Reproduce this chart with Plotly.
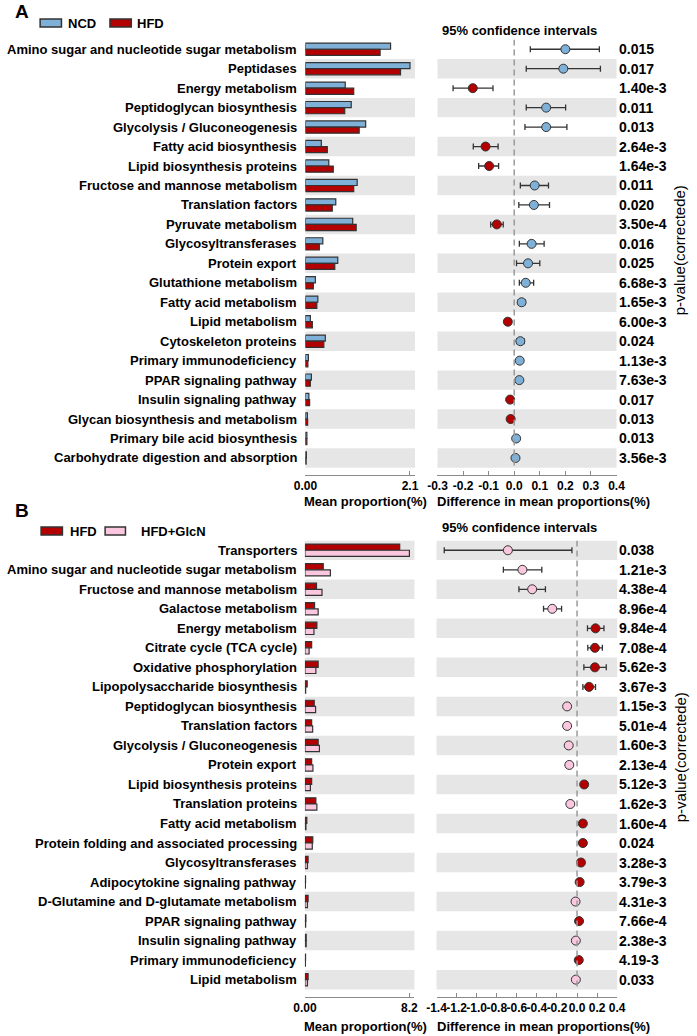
import plotly.graph_objects as go

W, H = 697, 1036

# ---------------- Panel A: NCD vs HFD ----------------
a_labels = ["Amino sugar and nucleotide sugar metabolism", "Peptidases", "Energy metabolism",
            "Peptidoglycan biosynthesis", "Glycolysis / Gluconeogenesis", "Fatty acid biosynthesis",
            "Lipid biosynthesis proteins", "Fructose and mannose metabolism", "Translation factors",
            "Pyruvate metabolism", "Glycosyltransferases", "Protein export", "Glutathione metabolism",
            "Fatty acid metabolism", "Lipid metabolism", "Cytoskeleton proteins",
            "Primary immunodeficiency", "PPAR signaling pathway", "Insulin signaling pathway",
            "Glycan biosynthesis and metabolism", "Primary bile acid biosynthesis",
            "Carbohydrate digestion and absorption"]
a_ncd = [1.71, 2.10, 0.80, 0.92, 1.21, 0.32, 0.47, 1.04, 0.61, 0.95, 0.35, 0.65, 0.20,
         0.25, 0.10, 0.40, 0.06, 0.12, 0.07, 0.04, 0.03, 0.02]
a_hfd = [1.50, 1.91, 0.97, 0.79, 1.08, 0.44, 0.56, 0.97, 0.54, 1.02, 0.28, 0.59, 0.16,
         0.23, 0.14, 0.37, 0.05, 0.10, 0.085, 0.045, 0.03, 0.015]
a_diff = [0.200, 0.192, -0.162, 0.125, 0.125, -0.112, -0.098, 0.080, 0.077, -0.068, 0.068,
          0.054, 0.045, 0.029, -0.025, 0.024, 0.0215, 0.020, -0.016, -0.014, 0.0076, 0.005]
a_lo = [0.063, 0.047, -0.239, 0.047, 0.042, -0.160, -0.139, 0.024, 0.018, -0.092, 0.020,
        0.009, 0.020, 0.016, -0.037, 0.010, 0.017, 0.013, -0.022, -0.020, 0.005, 0.002]
a_hi = [0.333, 0.337, -0.083, 0.201, 0.206, -0.063, -0.061, 0.134, 0.138, -0.043, 0.117,
        0.100, 0.076, 0.043, -0.014, 0.039, 0.026, 0.027, -0.010, -0.008, 0.010, 0.008]
a_p = ["0.015", "0.017", "1.40e-3", "0.011", "0.013", "2.64e-3", "1.64e-3", "0.011", "0.020",
       "3.50e-4", "0.016", "0.025", "6.68e-3", "1.65e-3", "6.00e-3", "0.024", "1.13e-3",
       "7.63e-3", "0.017", "0.013", "0.013", "3.56e-3"]

# ---------------- Panel B: HFD vs HFD+GlcN ----------------
b_labels = ["Transporters", "Amino sugar and nucleotide sugar metabolism",
            "Fructose and mannose metabolism", "Galactose metabolism", "Energy metabolism",
            "Citrate cycle (TCA cycle)", "Oxidative phosphorylation",
            "Lipopolysaccharide biosynthesis", "Peptidoglycan biosynthesis", "Translation factors",
            "Glycolysis / Gluconeogenesis", "Protein export", "Lipid biosynthesis proteins",
            "Translation proteins", "Fatty acid metabolism",
            "Protein folding and associated processing", "Glycosyltransferases",
            "Adipocytokine signaling pathway", "D-Glutamine and D-glutamate metabolism",
            "PPAR signaling pathway", "Insulin signaling pathway", "Primary immunodeficiency",
            "Lipid metabolism"]
b_hfd = [7.44, 1.44, 0.91, 0.76, 0.94, 0.53, 1.04, 0.18, 0.73, 0.53, 1.04, 0.53, 0.53, 0.86,
         0.15, 0.62, 0.25, 0.05, 0.25, 0.08, 0.10, 0.05, 0.25]
b_glcn = [8.20, 2.00, 1.34, 1.04, 0.71, 0.33, 0.86, 0.06, 0.84, 0.61, 1.14, 0.63, 0.43, 0.94,
          0.08, 0.58, 0.20, 0.04, 0.20, 0.06, 0.10, 0.04, 0.20]
b_diff = [-0.689, -0.544, -0.447, -0.247, 0.184, 0.178, 0.178, 0.120, -0.099, -0.099, -0.083,
          -0.077, 0.071, -0.067, 0.058, 0.058, 0.039, 0.026, -0.015, 0.020, -0.012, 0.017, -0.012]
b_lo = [-1.323, -0.734, -0.579, -0.334, 0.104, 0.107, 0.068, 0.058, -0.125, -0.125, -0.105,
        -0.099, 0.061, -0.077, 0.050, 0.028, 0.033, 0.023, -0.019, 0.017, -0.015, 0.014, -0.015]
b_hi = [-0.051, -0.351, -0.315, -0.154, 0.268, 0.252, 0.291, 0.184, -0.073, -0.073, -0.061,
        -0.055, 0.081, -0.057, 0.066, 0.090, 0.045, 0.029, -0.011, 0.023, -0.009, 0.020, -0.009]
b_p = ["0.038", "1.21e-3", "4.38e-4", "8.96e-4", "9.84e-4", "7.08e-4", "5.62e-3", "3.67e-3",
       "1.15e-3", "5.01e-4", "1.60e-3", "2.13e-4", "5.12e-3", "1.62e-3", "1.60e-4", "0.024",
       "3.28e-3", "3.79e-3", "4.31e-3", "7.66e-4", "2.38e-3", "4.19-3", "0.033"]

a_ci_ticks = [-0.3, -0.2, -0.1, 0.0, 0.1, 0.2, 0.3, 0.4]
b_ci_ticks = [-1.4, -1.2, -1.0, -0.8, -0.6, -0.4, -0.2, 0.0, 0.2, 0.4]

FONT = "Liberation Sans, Arial, sans-serif"
BLUE = "#7fb1d8"
RED = "#b30000"
PINK = "#fac7df"
STRIPE = "#e6e6e6"
EDGE = "#333333"
AXC = "#8a8a8a"


def px(x):
    return x / W


def py(y):
    return 1 - y / H


fig = go.Figure()

panels = [
    dict(tag="A", labels=a_labels, s1=a_ncd, s2=a_hfd, n1="NCD", n2="HFD", c1=BLUE, c2=RED,
         diff=a_diff, lo=a_lo, hi=a_hi, p=a_p, xa="x", ya="y", xb="x2", yb="y2",
         bar_dom=(302.5, 415.5), ci_dom=(438.7, 623.3), top=39.5, bottom=475,
         bar_range=[0, 2.2], bar_tv=[0, 2.1], bar_tt=["0.00", "2.1"],
         ci_range=[-0.3, 0.4], ci_tv=a_ci_ticks, parity=1,
         title_y=501.5, ci_title_y=30, vt_y=250, letter_y=12, leg_y=23,
         leg=[(29, 51, BLUE, 58, "NCD"), (101, 123, RED, 129, "HFD")]),
    dict(tag="B", labels=b_labels, s1=b_hfd, s2=b_glcn, n1="HFD", n2="HFD+GlcN", c1=RED, c2=PINK,
         diff=b_diff, lo=b_lo, hi=b_hi, p=b_p, xa="x3", ya="y3", xb="x4", yb="y4",
         bar_dom=(302, 415), ci_dom=(437.7, 624), top=540.5, bottom=996.7,
         bar_range=[0, 8.6], bar_tv=[0, 8.2], bar_tt=["0.00", "8.2"],
         ci_range=[-1.4, 0.4], ci_tv=b_ci_ticks, parity=0,
         title_y=1026, ci_title_y=527, vt_y=757, letter_y=510, leg_y=531,
         leg=[(30, 52, RED, 60, "HFD"), (96, 117, PINK, 133, "HFD+GlcN")]),
]

shapes = []
annotations = []
layout_axes = {}


def xname(a):
    return "xaxis" if a == "x" else "xaxis" + a[1:]


def yname(a):
    return "yaxis" if a == "y" else "yaxis" + a[1:]


for P in panels:
    n = len(P["labels"])
    rows = list(range(n))
    row_h = (P["bottom"] - P["top"] - 7.3) / n
    pad = (P["bottom"] - P["top"]) / row_h - n
    yrange = [n - 0.5 + pad, -0.5]
    ydom = [py(P["bottom"]), py(P["top"])]

    # bars
    fig.add_trace(go.Bar(x=P["s1"], y=rows, orientation="h", name=P["n1"],
                         marker=dict(color=P["c1"], line=dict(color=EDGE, width=1.2)),
                         xaxis=P["xa"], yaxis=P["ya"], showlegend=False))
    fig.add_trace(go.Bar(x=P["s2"], y=rows, orientation="h", name=P["n2"],
                         marker=dict(color=P["c2"], line=dict(color=EDGE, width=1.2)),
                         xaxis=P["xa"], yaxis=P["ya"], showlegend=False))
    # CI points
    cols = [P["c1"] if d > 0 else P["c2"] for d in P["diff"]]
    fig.add_trace(go.Scatter(
        x=P["diff"], y=rows, mode="markers",
        marker=dict(size=9, color=cols, line=dict(color=EDGE, width=1)),
        error_x=dict(type="data", symmetric=False,
                     array=[h - d for h, d in zip(P["hi"], P["diff"])],
                     arrayminus=[d - l for d, l in zip(P["diff"], P["lo"])],
                     color=EDGE, thickness=1.3, width=3),
        xaxis=P["xb"], yaxis=P["yb"], showlegend=False))

    # stripes
    for i in rows:
        if i % 2 == P["parity"]:
            for xr, yr in ((P["xa"], P["ya"]), (P["xb"], P["yb"])):
                shapes.append(dict(type="rect", xref=f"{xr} domain", x0=0, x1=1,
                                   yref=yr, y0=i - 0.5, y1=i + 0.5, fillcolor=STRIPE,
                                   line=dict(width=0), layer="below"))
    # zero dashed line
    shapes.append(dict(type="line", xref=P["xb"], x0=0, x1=0, yref=P["yb"],
                       y0=-0.5, y1=n - 0.5,
                       line=dict(color="#9a9a9a", width=1.5, dash="6px,4px"),
                       layer="above"))

    common_x = dict(showgrid=False, zeroline=False, showline=True, linecolor=AXC, linewidth=1,
                    ticks="inside", ticklen=4, tickcolor=AXC, tickangle=0,
                    tickfont=dict(family=FONT, size=12, color="black", weight="bold"))
    layout_axes[xname(P["xa"])] = dict(common_x, domain=[px(P["bar_dom"][0]), px(P["bar_dom"][1])],
                                       range=P["bar_range"], tickvals=P["bar_tv"],
                                       ticktext=P["bar_tt"], anchor=P["ya"])
    layout_axes[xname(P["xb"])] = dict(common_x, domain=[px(P["ci_dom"][0]), px(P["ci_dom"][1])],
                                       range=P["ci_range"], tickvals=P["ci_tv"],
                                       ticktext=[f"{v:.1f}" for v in P["ci_tv"]],
                                       anchor=P["yb"])
    for ya, xa in ((P["ya"], P["xa"]), (P["yb"], P["xb"])):
        layout_axes[yname(ya)] = dict(domain=ydom, range=yrange, visible=False,
                                      showgrid=False, zeroline=False, anchor=xa)

    # row labels and p-values
    for i, (lab, pv) in enumerate(zip(P["labels"], P["p"])):
        annotations.append(dict(x=px(296), xref="paper", xanchor="right", y=i, yref=P["ya"],
                                text=lab, showarrow=False,
                                font=dict(family=FONT, size=13, color="black", weight="bold")))
        annotations.append(dict(x=px(624), xref="paper", xanchor="left", y=i, yref=P["yb"],
                                text=pv, showarrow=False,
                                font=dict(family=FONT, size=14, color="black", weight="bold")))

    # titles
    annotations.append(dict(x=px(299), y=py(P["title_y"]), xref="paper", yref="paper",
                            xanchor="left", yanchor="middle", text="Mean proportion(%)",
                            showarrow=False,
                            font=dict(family=FONT, size=13, color="black", weight="bold")))
    annotations.append(dict(x=px(436), y=py(P["title_y"]), xref="paper", yref="paper",
                            xanchor="left", yanchor="middle",
                            text="Difference in mean proportions(%)", showarrow=False,
                            font=dict(family=FONT, size=13, color="black", weight="bold")))
    annotations.append(dict(x=px(523), y=py(P["ci_title_y"]), xref="paper", yref="paper",
                            xanchor="center", yanchor="middle", text="95% confidence intervals",
                            showarrow=False,
                            font=dict(family=FONT, size=13, color="black", weight="bold")))
    annotations.append(dict(x=px(689), y=py(P["vt_y"]), xref="paper", yref="paper",
                            xanchor="center", yanchor="middle", text="p-value(correctede)",
                            textangle=-90, showarrow=False,
                            font=dict(family=FONT, size=15, color="black")))
    annotations.append(dict(x=px(1), y=py(P["letter_y"]), xref="paper", yref="paper",
                            xanchor="left", yanchor="middle", text=P["tag"], showarrow=False,
                            font=dict(family=FONT, size=19, color="black", weight="bold")))
    # legend
    for (x0, x1, c, tx, t) in P["leg"]:
        shapes.append(dict(type="rect", xref="paper", yref="paper", x0=px(x0), x1=px(x1),
                           y0=py(P["leg_y"] + 4), y1=py(P["leg_y"] - 4), fillcolor=c,
                           line=dict(color=EDGE, width=1.5)))
        annotations.append(dict(x=px(tx - 2), y=py(P["leg_y"]), xref="paper", yref="paper",
                                xanchor="left", yanchor="middle", text=t, showarrow=False,
                                font=dict(family=FONT, size=13, color="black", weight="bold")))

fig.update_layout(
    width=W, height=H, margin=dict(l=0, r=0, t=0, b=0),
    paper_bgcolor="white", plot_bgcolor="rgba(0,0,0,0)",
    barmode="group", bargap=0.37, bargroupgap=0,
    shapes=shapes, annotations=annotations, showlegend=False,
    font=dict(family=FONT, color="black"),
    **layout_axes,
)

fig.write_html("out.html", config={"displayModeBar": False},
               post_script="document.body.style.margin='0';")
